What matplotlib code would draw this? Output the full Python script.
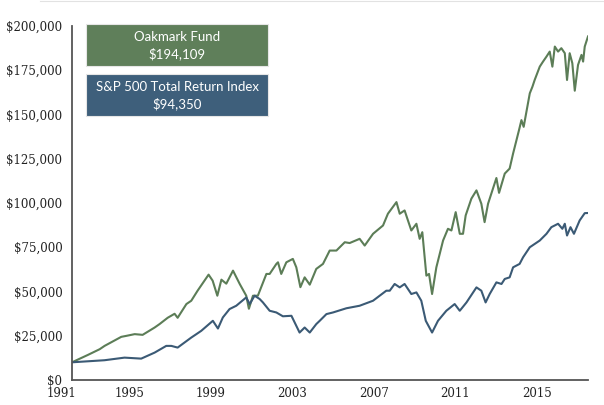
import matplotlib
matplotlib.use("Agg")
import matplotlib.pyplot as plt
from matplotlib.patches import Rectangle
from matplotlib.lines import Line2D
from matplotlib.ticker import FuncFormatter

# growth of $10,000 (x in chart years)
oak_years = [1992.17, 1992.95, 1993.53, 1993.77, 1994.59, 1994.84, 1995.25, 1995.64,
             1996.23, 1996.47, 1996.87, 1997.21, 1997.36, 1997.79, 1998.03, 1998.34,
             1998.88, 1999.08, 1999.31, 1999.51, 1999.75, 2000.08, 2000.41, 2000.73,
             2000.86, 2001.06, 2001.30, 2001.72, 2001.88, 2002.21, 2002.29, 2002.45,
             2002.70, 2003.02, 2003.19, 2003.39, 2003.60, 2003.85, 2004.17, 2004.50,
             2004.83, 2005.16, 2005.57, 2005.81, 2006.30, 2006.55, 2006.96, 2007.45,
             2007.69, 2008.11, 2008.27, 2008.51, 2008.84, 2009.09, 2009.25, 2009.38,
             2009.58, 2009.71, 2009.86, 2010.07, 2010.40, 2010.64, 2010.81, 2011.02,
             2011.22, 2011.38, 2011.51, 2011.79, 2012.04, 2012.28, 2012.44, 2012.61,
             2013.02, 2013.15, 2013.43, 2013.67, 2013.84, 2014.13, 2014.25, 2014.36,
             2014.66, 2014.79, 2014.90, 2015.15, 2015.31, 2015.48, 2015.64, 2015.77,
             2015.89, 2016.05, 2016.21, 2016.38, 2016.49, 2016.62, 2016.75, 2016.87,
             2017.03, 2017.20, 2017.28, 2017.36, 2017.52]
oak_values = [10000, 14170, 17400, 19270, 24380, 24940, 25910, 25510,
              29650, 31580, 35150, 37420, 35150, 42910, 44790, 50450,
              59520, 56120, 47620, 56690, 54420, 61790, 54250, 47620,
              40250, 47620, 47620, 59920, 59920, 65590, 66500, 59920,
              66500, 68420, 63660, 52440, 58000, 53860, 62760, 65590,
              73130, 73130, 77830, 77380, 79760, 75960, 82600, 87300,
              93940, 100510, 93940, 95800, 84470, 88270, 79760, 83510,
              58960, 59920, 48580, 63660, 78800, 85430, 84470, 94840,
              82600, 82600, 92970, 102440, 107140, 99600, 89170, 99600,
              114120, 105730, 116610, 119450, 127950, 141160, 146830, 143030,
              161960, 165700, 169500, 177040, 179880, 182710, 185540, 177040,
              188380, 185540, 187470, 184640, 169500, 184640, 178970, 163440,
              178010, 183680, 179880, 188380, 194109]

spx_years = [1992.17, 1993.77, 1994.75, 1995.57, 1996.23, 1996.80, 1997.05, 1997.36,
             1998.03, 1998.28, 1998.52, 1999.09, 1999.34, 1999.58, 1999.91, 2000.24,
             2000.73, 2000.90, 2001.14, 2001.39, 2001.55, 2001.88, 2002.21, 2002.53,
             2002.95, 2003.35, 2003.60, 2003.85, 2004.17, 2004.34, 2004.67, 2004.99,
             2005.65, 2006.30, 2006.96, 2007.61, 2007.78, 2008.02, 2008.27, 2008.51,
             2008.84, 2009.09, 2009.33, 2009.55, 2009.86, 2010.15, 2010.56, 2010.97,
             2011.22, 2011.55, 2012.04, 2012.28, 2012.49, 2012.69, 2013.02, 2013.27,
             2013.43, 2013.67, 2013.84, 2014.16, 2014.33, 2014.66, 2015.15, 2015.48,
             2015.72, 2016.05, 2016.26, 2016.38, 2016.49, 2016.66, 2016.83, 2017.11,
             2017.36, 2017.52]
spx_values = [10000, 11170, 12640, 12080, 15480, 19270, 19270, 18310,
              23980, 25910, 27780, 33450, 29080, 35320, 40080, 41950,
              46660, 42910, 47620, 45750, 43820, 39120, 38150, 36000,
              36280, 26810, 29650, 26810, 31580, 33450, 37240, 38150,
              40530, 41950, 44790, 50450, 50450, 54250, 52330, 54250,
              48580, 49490, 44790, 33450, 26810, 33450, 39120, 42910,
              39120, 43820, 52330, 50450, 43820, 48580, 55160, 54250,
              57090, 57990, 63660, 65590, 69330, 75000, 78800, 82600,
              86340, 88270, 85430, 88270, 81630, 86340, 82600, 90140,
              94270, 94350]

tick_years = [1995, 1999, 2003, 2007, 2011, 2015]
first_label = "1991"
names = ["Oakmark Fund", "S&P 500 Total Return Index"]

green = "#5c7d57"
blue = "#3b5a75"
box_green = "#5f7f5a"
box_blue = "#3e5f7b"

fig = plt.figure(figsize=(6.04, 4.05), dpi=100)
ax = fig.add_axes([72 / 604, 1 - 380 / 405, 516 / 604, 354 / 405])

ax.plot(oak_years, oak_values, color=green, lw=1.5, solid_joinstyle="round")
ax.plot(spx_years, spx_values, color=blue, lw=1.5, solid_joinstyle="round")

ax.set_xlim(oak_years[0], oak_years[-1])
ax.set_ylim(0, 200000)
ax.set_yticks(range(0, 200001, 25000))
ax.yaxis.set_major_formatter(FuncFormatter(lambda v, p: "${:,.0f}".format(v)))
ax.set_xticks(tick_years)
ax.set_xticklabels([str(y) for y in tick_years])

for s in ["top", "right"]:
    ax.spines[s].set_visible(False)
for s in ["left", "bottom"]:
    ax.spines[s].set_color("#555555")
    ax.spines[s].set_linewidth(1.3)

serif = "DejaVu Serif"
ax.tick_params(axis="both", length=0, labelcolor="#222222", labelsize=8.5)
ax.tick_params(axis="y", pad=7)
ax.tick_params(axis="x", pad=5)
for lab in ax.get_xticklabels() + ax.get_yticklabels():
    lab.set_fontfamily(serif)

# first year label sits just left of the axis start
ax.annotate(first_label, xy=(oak_years[0], 0), xycoords=("data", "axes fraction"),
            xytext=(-7.5, -5), textcoords="offset points", ha="center", va="top",
            fontsize=8.5, family=serif, color="#222222", annotation_clip=False)

# label boxes
boxes = [(names[0], oak_values[-1], box_green, 1 - 66 / 405),
         (names[1], spx_values[-1], box_blue, 1 - 116 / 405)]
for name, val, col, y0 in boxes:
    fig.add_artist(Rectangle((86 / 604, y0), 182 / 604, 42 / 405,
                             transform=fig.transFigure, facecolor=col,
                             edgecolor="#e6e6e6", lw=0.8))
    cx = (86 + 91) / 604
    fig.text(cx, y0 + 29 / 405, name, ha="center", va="center",
             color="white", fontsize=9.5, family="Lato")
    fig.text(cx, y0 + 12 / 405, "${:,.0f}".format(val), ha="center", va="center",
             color="white", fontsize=9.5, family="Lato")

# faint rule along the top edge
fig.add_artist(Line2D([40 / 604, 1], [1 - 1 / 405] * 2, transform=fig.transFigure,
                      color="#e2e2e2", lw=0.8))

fig.savefig("out.png", dpi=100)
